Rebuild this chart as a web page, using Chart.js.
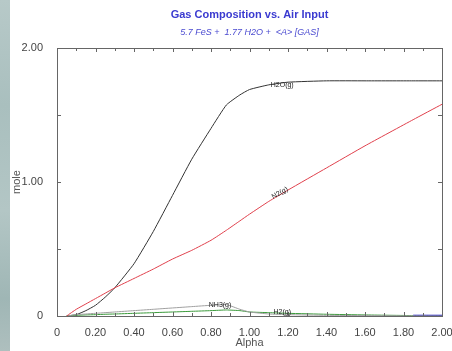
<!DOCTYPE html>
<html>
<head>
<meta charset="utf-8">
<script src="https://cdn.jsdelivr.net/npm/chart.js@4"></script>
<style>
  html, body { margin: 0; padding: 0; background: #fff; }
  #wrap { position: relative; width: 452px; height: 351px; overflow: hidden; }
  #strip {
    position: absolute; left: 0; top: 0; width: 10px; height: 351px;
    background: linear-gradient(180deg, #b7c9c8 0%, #a9bfbe 30%, #b3c6c5 60%, #9fb6b5 85%, #aebfbe 100%);
  }
  canvas { position: absolute; left: 0; top: 0; }
</style>
</head>
<body>
<div id="wrap">
  <div id="strip"></div>
  <canvas id="chart" width="452" height="351"></canvas>
</div>
<script>
// alpha (air input) values and gas amounts in mole
const alpha = [0, 0.05, 0.1, 0.15, 0.2, 0.25, 0.3, 0.4, 0.5, 0.6, 0.7, 0.8, 0.88, 0.95, 1.0, 1.1, 1.2, 1.4, 1.6, 1.85, 2.0];
const h2o   = [null, 0, 0.01, 0.04, 0.08, 0.14, 0.21, 0.39, 0.63, 0.9, 1.17, 1.4, 1.575, 1.65, 1.69, 1.725, 1.745, 1.755, 1.755, 1.755, 1.755];
const n2    = [null, 0, 0.05, 0.09, 0.13, 0.17, 0.21, 0.28, 0.35, 0.425, 0.49, 0.565, 0.64, 0.71, 0.76, 0.855, 0.94, 1.105, 1.27, 1.465, 1.58];
const nh3   = [null, 0, 0.01, 0.015, 0.02, 0.025, 0.03, 0.04, 0.05, 0.06, 0.07, 0.08, 0.085, 0.05, 0.03, 0.015, 0.01, 0.005, 0.003, 0.001, 0];
const h2    = [null, 0, 0.005, 0.008, 0.01, 0.013, 0.015, 0.02, 0.025, 0.03, 0.035, 0.04, 0.045, 0.04, 0.03, 0.025, 0.02, 0.013, 0.008, 0.003, null];
const other = [null, null, null, null, null, null, null, null, null, null, null, null, null, null, null, null, null, null, null, 0.004, 0.004];

const yLabels = { 0: '0', 1: '1.00', 2: '2.00' };

// where each curve name sits: [alpha, mole, rotation deg]
const curveLabels = [
    { text: 'H2O(g)', at: [1.17, 1.72], rot: 0 },
    { text: 'N2(g)', at: [1.158, 0.918], rot: -30 },
    { text: 'NH3(g)', at: [0.847, 0.085], rot: 0 },
    { text: 'H2(g)', at: [1.17, 0.03], rot: 0 }
];

const pts = arr => alpha.map((a, i) => ({ x: a, y: arr[i] }));

const line = (data, color, width) => ({
    data: pts(data),
    borderColor: color,
    borderWidth: width,
    pointRadius: 0,
    fill: false,
    spanGaps: false,
    tension: 0.15
});

// frame + inward tick marks on all four sides
const frame = {
    id: 'frame',
    afterDatasetsDraw(chart) {
        const { ctx, chartArea: a, scales: { x, y } } = chart;
        ctx.save();
        ctx.strokeStyle = '#666';
        ctx.lineWidth = 1;
        ctx.strokeRect(a.left + 0.5, a.top + 0.5, a.right - a.left, a.bottom - a.top);
        ctx.beginPath();
        for (let i = 0; i <= 20; i++) {
            const px = Math.round(x.getPixelForValue(i / 10)) + 0.5;
            const len = i % 2 === 0 ? 4 : 3;
            ctx.moveTo(px, a.bottom); ctx.lineTo(px, a.bottom - len);
            ctx.moveTo(px, a.top); ctx.lineTo(px, a.top + len);
        }
        for (let i = 0; i <= 4; i++) {
            const py = Math.round(y.getPixelForValue(i / 2)) + 0.5;
            ctx.moveTo(a.left, py); ctx.lineTo(a.left + 4, py);
            ctx.moveTo(a.right, py); ctx.lineTo(a.right - 4, py);
        }
        ctx.stroke();

        // curve names
        ctx.font = '7px "Liberation Sans", Arial, sans-serif';
        ctx.fillStyle = '#222';
        ctx.textAlign = 'center';
        ctx.textBaseline = 'middle';
        curveLabels.forEach(l => {
            ctx.save();
            ctx.translate(x.getPixelForValue(l.at[0]), y.getPixelForValue(l.at[1]));
            ctx.rotate(l.rot * Math.PI / 180);
            ctx.fillText(l.text, 0, 0);
            ctx.restore();
        });
        ctx.restore();
    }
};

const tickFont = { family: 'Liberation Sans', size: 11 };

new Chart(document.getElementById('chart'), {
    type: 'line',
    data: {
        datasets: [
            line(n2, '#e0404c', 1),
            line(nh3, '#a0a0a0', 1),
            line(h2, '#3a9a3a', 1),
            line(other, '#2a2ac8', 1.5),
            line(h2o, '#333', 1)
        ]
    },
    options: {
        responsive: false,
        animation: false,
        layout: { padding: { left: 10, right: 0, top: 0, bottom: 1 } },
        plugins: {
            legend: { display: false },
            tooltip: { enabled: false },
            title: {
                display: true,
                text: 'Gas Composition vs. Air Input',
                color: '#3a3ad0',
                fullSize: false,
                font: { family: 'Liberation Sans', size: 11, weight: 'bold' },
                padding: { top: 8, bottom: 6 }
            },
            subtitle: {
                display: true,
                text: '5.7 FeS +  1.77 H2O +  <A> [GAS]',
                color: '#4a4ad0',
                fullSize: false,
                font: { family: 'Liberation Sans', size: 9, style: 'italic' },
                padding: { top: 0, bottom: 10 }
            }
        },
        scales: {
            x: {
                type: 'linear',
                min: 0,
                max: 2,
                border: { display: false },
                grid: { display: false },
                ticks: {
                    stepSize: 0.2,
                    color: '#444',
                    font: tickFont,
                    padding: 2,
                    maxRotation: 0,
                    callback: v => v === 0 ? '0' : v.toFixed(2)
                },
                title: { display: true, text: 'Alpha', color: '#555', font: tickFont, padding: { top: 0, bottom: 0 } },
                afterFit: s => { s.height = 34; s.paddingRight = 10; }
            },
            y: {
                min: 0,
                max: 2,
                border: { display: false },
                grid: { display: false },
                ticks: {
                    stepSize: 0.5,
                    color: '#444',
                    font: tickFont,
                    padding: 6,
                    callback: v => yLabels[v] ?? ''
                },
                title: { display: true, text: 'mole', color: '#555', font: tickFont, padding: { top: 0, bottom: 2 } },
                afterFit: s => { s.width = 47; }
            }
        }
    },
    plugins: [frame]
});
</script>
</body>
</html>
